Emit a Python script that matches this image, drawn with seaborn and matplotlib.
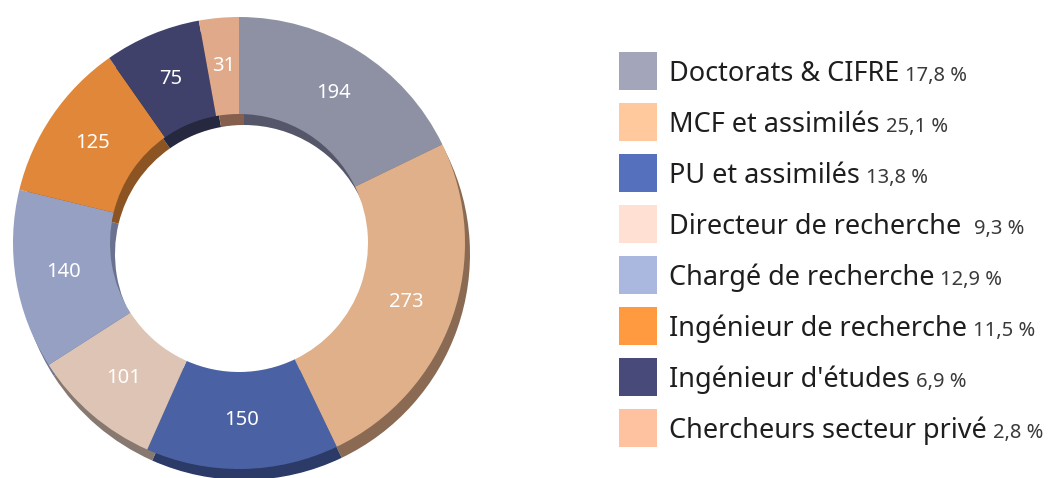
import matplotlib
matplotlib.use("Agg")
import matplotlib.pyplot as plt
from matplotlib.patches import Rectangle
import seaborn as sns

categories = ["Doctorats & CIFRE", "MCF et assimilés", "PU et assimilés",
              "Directeur de recherche ", "Chargé de recherche",
              "Ingénieur de recherche", "Ingénieur d'études",
              "Chercheurs secteur privé"]
values = [194, 273, 150, 101, 140, 125, 75, 31]
pct_labels = ["17,8 %", "25,1 %", "13,8 %", "9,3 %", "12,9 %", "11,5 %", "6,9 %", "2,8 %"]

slice_colors = sns.color_palette(["#8E91A4", "#DFB08A", "#4A62A4", "#DEC4B4",
                                  "#96A0C3", "#E0873A", "#3F416A", "#E0AA8A"])
side_colors = sns.color_palette(["#55566A", "#8A6A52", "#2B3A66", "#877870",
                                 "#6A7290", "#8C5422", "#262840", "#86604F"])
legend_colors = sns.color_palette(["#A3A5BB", "#FFC99D", "#5570BD", "#FFE0D2",
                                   "#AAB8DF", "#FF9A40", "#484B7A", "#FFC2A0"])

sns.set_theme(style="white")
plt.rcParams['font.family'] = ['Noto Sans', 'DejaVu Sans']

W, H = 1052, 478
fig = plt.figure(figsize=(W / 100, H / 100), dpi=100)
ax = fig.add_axes([0, 0, 1, 1])
ax.set_xlim(0, W)
ax.set_ylim(0, H)
ax.axis('off')

cx, cy = 239, H - 243
R, r_in = 226, 129

# extruded side
ax.pie(values, colors=side_colors, startangle=90, counterclock=False,
       radius=R, center=(cx + 5, cy - 11), frame=True,
       wedgeprops=dict(width=R - r_in, linewidth=0))
# top face
wedges, texts = ax.pie(values, colors=slice_colors, startangle=90, counterclock=False,
                       radius=R, center=(cx, cy), frame=True,
                       labels=[str(v) for v in values], labeldistance=0.785,
                       wedgeprops=dict(width=R - r_in, linewidth=0))
for t in texts:
    t.set_ha('center')
    t.set_va('center')
    t.set_color('white')
    t.set_fontsize(14.5)
ax.set_xlim(0, W)
ax.set_ylim(0, H)
ax.set_aspect('equal')
ax.axis('off')

fig.canvas.draw()
renderer = fig.canvas.get_renderer()
for i, (name, pct) in enumerate(zip(categories, pct_labels)):
    yc = 71 + 51 * i
    ax.add_patch(Rectangle((619, H - yc - 19), 38, 38, color=legend_colors[i], linewidth=0))
    t = ax.text(669, H - (yc + 10), name, fontsize=19.5, va='baseline', ha='left', color='#1E1E1E')
    bb = t.get_window_extent(renderer=renderer)
    ax.text(bb.x1 + 6, H - (yc + 10), pct, fontsize=14.5, va='baseline', ha='left', color='#3A3A3A')

fig.savefig("out.png", dpi=100)
